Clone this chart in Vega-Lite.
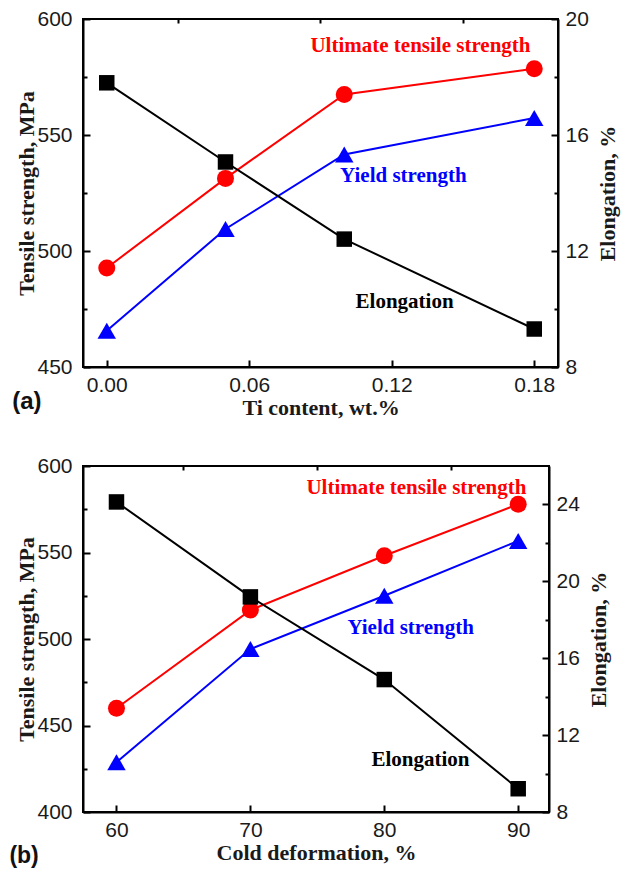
{
  "$schema": "https://vega.github.io/schema/vega-lite/v6.json",
  "padding": {"left": 8, "top": 7, "right": 4, "bottom": 0},
  "spacing": 35,
  "datasets": {
    "a": [
      {"x": 0.0, "uts": 492.7, "ys": 465.6, "el": 17.8},
      {"x": 0.05, "uts": 531.3, "ys": 509.5, "el": 15.07},
      {"x": 0.1, "uts": 567.5, "ys": 541.6, "el": 12.41},
      {"x": 0.18, "uts": 578.6, "ys": 557.3, "el": 9.31}
    ],
    "b": [
      {"x": 60, "uts": 460.0, "ys": 428.8, "el": 24.13},
      {"x": 70, "uts": 516.7, "ys": 494.2, "el": 19.19},
      {"x": 80, "uts": 548.1, "ys": 525.0, "el": 14.89},
      {"x": 90, "uts": 577.9, "ys": 556.7, "el": 9.21}
    ],
    "labels_a": [
      {"label": "Ultimate tensile strength", "x": 0.1321, "y": 588.4},
      {"label": "Yield strength", "x": 0.1249, "y": 532.3},
      {"label": "Elongation", "x": 0.1254, "y": 478}
    ],
    "labels_b": [
      {"label": "Ultimate tensile strength", "x": 82.4, "y": 587.5},
      {"label": "Yield strength", "x": 81.97, "y": 506.2},
      {"label": "Elongation", "x": 82.7, "y": 429.8}
    ],
    "tag_a": [{"tag": "(a)", "x": -0.0336, "y": 434.9}],
    "tag_b": [{"tag": "(b)", "x": 53.1, "y": 374.6}]
  },
  "vconcat": [
    {
      "width": 475,
      "height": 348,
      "layer": [
        {
          "data": {"name": "a"},
          "layer": [
            {
              "mark": {"type": "line", "color": "#ff0000", "strokeWidth": 2},
              "encoding": {
                "x": {"field": "x", "type": "quantitative", "scale": {"domain": [-0.01, 0.19], "nice": false, "zero": false},
                      "axis": {"values": [0, 0.06, 0.12, 0.18], "format": ".2f", "title": "Ti content, wt.%"}},
                "y": {"field": "uts", "type": "quantitative", "scale": {"domain": [450, 600], "nice": false, "zero": false},
                      "axis": {"orient": "left", "values": [450, 500, 550, 600], "title": "Tensile strength, MPa"}}
              }
            },
            {
              "mark": {"type": "point", "shape": "circle", "filled": true, "opacity": 1, "color": "#ff0000", "size": 289},
              "encoding": {
                "x": {"field": "x", "type": "quantitative", "axis": null},
                "y": {"field": "uts", "type": "quantitative", "axis": null}
              }
            },
            {
              "mark": {"type": "line", "color": "#0000ff", "strokeWidth": 2},
              "encoding": {
                "x": {"field": "x", "type": "quantitative", "axis": null},
                "y": {"field": "ys", "type": "quantitative", "axis": null}
              }
            },
            {
              "mark": {"type": "point", "shape": "triangle-up", "filled": true, "opacity": 1, "color": "#0000ff", "size": 340},
              "encoding": {
                "x": {"field": "x", "type": "quantitative", "axis": null},
                "y": {"field": "ys", "type": "quantitative", "axis": null}
              }
            },
            {
              "data": {"name": "labels_a"},
              "mark": {"type": "text", "font": "Liberation Serif", "fontWeight": "bold", "fontSize": 21, "baseline": "middle", "align": "center"},
              "encoding": {
                "x": {"field": "x", "type": "quantitative", "axis": null},
                "y": {"field": "y", "type": "quantitative", "axis": null},
                "text": {"field": "label"},
                "color": {"field": "label", "type": "nominal", "legend": null,
                          "scale": {"domain": ["Ultimate tensile strength", "Yield strength", "Elongation"], "range": ["#ff0000", "#0000ff", "#000000"]}}
              }
            },
            {
              "data": {"name": "tag_a"},
              "mark": {"type": "text", "font": "Liberation Sans", "fontWeight": "bold", "fontSize": 24, "baseline": "middle", "align": "center", "color": "#111111"},
              "encoding": {
                "x": {"field": "x", "type": "quantitative", "axis": null},
                "y": {"field": "y", "type": "quantitative", "axis": null},
                "text": {"field": "tag"}
              }
            },
            {
              "mark": {"type": "point", "opacity": 0},
              "encoding": {
                "x": {"field": "x", "type": "quantitative",
                      "axis": {"values": [0.03, 0.09, 0.15], "labels": false, "domain": false, "tickSize": -4, "title": null}},
                "y": {"field": "uts", "type": "quantitative",
                      "axis": {"orient": "left", "values": [475, 525, 575], "labels": false, "domain": false, "tickSize": -4, "title": null}}
              }
            }
          ],
          "resolve": {"axis": {"x": "independent", "y": "independent"}}
        },
        {
          "data": {"name": "a"},
          "layer": [
            {
              "mark": {"type": "line", "color": "#000000", "strokeWidth": 2},
              "encoding": {
                "x": {"field": "x", "type": "quantitative", "axis": null},
                "y": {"field": "el", "type": "quantitative", "scale": {"domain": [8, 20], "nice": false, "zero": false},
                      "axis": {"orient": "right", "values": [8, 12, 16, 20], "title": "Elongation, %"}}
              }
            },
            {
              "mark": {"type": "point", "shape": "square", "filled": true, "opacity": 1, "color": "#000000", "size": 240},
              "encoding": {
                "x": {"field": "x", "type": "quantitative", "axis": null},
                "y": {"field": "el", "type": "quantitative", "axis": null}
              }
            },
            {
              "mark": {"type": "point", "opacity": 0},
              "encoding": {
                "x": {"field": "x", "type": "quantitative", "axis": null},
                "y": {"field": "el", "type": "quantitative",
                      "axis": {"orient": "right", "values": [10, 14, 18], "labels": false, "domain": false, "tickSize": -4, "title": null}}
              }
            }
          ],
          "resolve": {"axis": {"y": "independent"}}
        }
      ],
      "resolve": {"scale": {"y": "independent"}}
    },
    {
      "width": 466,
      "height": 346,
      "layer": [
        {
          "data": {"name": "b"},
          "layer": [
            {
              "mark": {"type": "line", "color": "#ff0000", "strokeWidth": 2},
              "encoding": {
                "x": {"field": "x", "type": "quantitative", "scale": {"domain": [57.5, 92.3], "nice": false, "zero": false},
                      "axis": {"values": [60, 70, 80, 90], "format": "d", "title": "Cold deformation, %"}},
                "y": {"field": "uts", "type": "quantitative", "scale": {"domain": [400, 600], "nice": false, "zero": false},
                      "axis": {"orient": "left", "values": [400, 450, 500, 550, 600], "title": "Tensile strength, MPa"}}
              }
            },
            {
              "mark": {"type": "point", "shape": "circle", "filled": true, "opacity": 1, "color": "#ff0000", "size": 289},
              "encoding": {
                "x": {"field": "x", "type": "quantitative", "axis": null},
                "y": {"field": "uts", "type": "quantitative", "axis": null}
              }
            },
            {
              "mark": {"type": "line", "color": "#0000ff", "strokeWidth": 2},
              "encoding": {
                "x": {"field": "x", "type": "quantitative", "axis": null},
                "y": {"field": "ys", "type": "quantitative", "axis": null}
              }
            },
            {
              "mark": {"type": "point", "shape": "triangle-up", "filled": true, "opacity": 1, "color": "#0000ff", "size": 340},
              "encoding": {
                "x": {"field": "x", "type": "quantitative", "axis": null},
                "y": {"field": "ys", "type": "quantitative", "axis": null}
              }
            },
            {
              "data": {"name": "labels_b"},
              "mark": {"type": "text", "font": "Liberation Serif", "fontWeight": "bold", "fontSize": 21, "baseline": "middle", "align": "center"},
              "encoding": {
                "x": {"field": "x", "type": "quantitative", "axis": null},
                "y": {"field": "y", "type": "quantitative", "axis": null},
                "text": {"field": "label"},
                "color": {"field": "label", "type": "nominal", "legend": null,
                          "scale": {"domain": ["Ultimate tensile strength", "Yield strength", "Elongation"], "range": ["#ff0000", "#0000ff", "#000000"]}}
              }
            },
            {
              "data": {"name": "tag_b"},
              "mark": {"type": "text", "font": "Liberation Sans", "fontWeight": "bold", "fontSize": 23, "baseline": "middle", "align": "center", "color": "#111111"},
              "encoding": {
                "x": {"field": "x", "type": "quantitative", "axis": null},
                "y": {"field": "y", "type": "quantitative", "axis": null},
                "text": {"field": "tag"}
              }
            },
            {
              "mark": {"type": "point", "opacity": 0},
              "encoding": {
                "x": {"field": "x", "type": "quantitative",
                      "axis": {"values": [65, 75, 85], "labels": false, "domain": false, "tickSize": -4, "title": null}},
                "y": {"field": "uts", "type": "quantitative",
                      "axis": {"orient": "left", "values": [425, 475, 525, 575], "labels": false, "domain": false, "tickSize": -4, "title": null}}
              }
            }
          ],
          "resolve": {"axis": {"x": "independent", "y": "independent"}}
        },
        {
          "data": {"name": "b"},
          "layer": [
            {
              "mark": {"type": "line", "color": "#000000", "strokeWidth": 2},
              "encoding": {
                "x": {"field": "x", "type": "quantitative", "axis": null},
                "y": {"field": "el", "type": "quantitative", "scale": {"domain": [8, 26], "nice": false, "zero": false},
                      "axis": {"orient": "right", "values": [8, 12, 16, 20, 24], "title": "Elongation, %"}}
              }
            },
            {
              "mark": {"type": "point", "shape": "square", "filled": true, "opacity": 1, "color": "#000000", "size": 240},
              "encoding": {
                "x": {"field": "x", "type": "quantitative", "axis": null},
                "y": {"field": "el", "type": "quantitative", "axis": null}
              }
            },
            {
              "mark": {"type": "point", "opacity": 0},
              "encoding": {
                "x": {"field": "x", "type": "quantitative", "axis": null},
                "y": {"field": "el", "type": "quantitative",
                      "axis": {"orient": "right", "values": [10, 14, 18, 22], "labels": false, "domain": false, "tickSize": -4, "title": null}}
              }
            }
          ],
          "resolve": {"axis": {"y": "independent"}}
        }
      ],
      "resolve": {"scale": {"y": "independent"}}
    }
  ],
  "config": {
    "background": "#ffffff",
    "view": {"stroke": "#000000", "strokeWidth": 2},
    "axis": {
      "grid": false,
      "domainColor": "#000000",
      "domainWidth": 2,
      "tickColor": "#000000",
      "tickWidth": 2,
      "tickSize": -7,
      "labelFont": "Liberation Sans",
      "labelFontSize": 21,
      "labelColor": "#1a1a1a",
      "labelFlush": false,
      "labelOverlap": false,
      "titleFont": "Liberation Serif",
      "titleFontSize": 22,
      "titleFontWeight": "bold",
      "titleColor": "#1a1a1a"
    },
    "axisX": {"labelPadding": 14, "titlePadding": 2},
    "axisLeft": {"labelPadding": 18, "titlePadding": -2},
    "axisRight": {"labelPadding": 14, "titlePadding": 9, "titleAngle": 270, "titleBaseline": "top"}
  }
}
